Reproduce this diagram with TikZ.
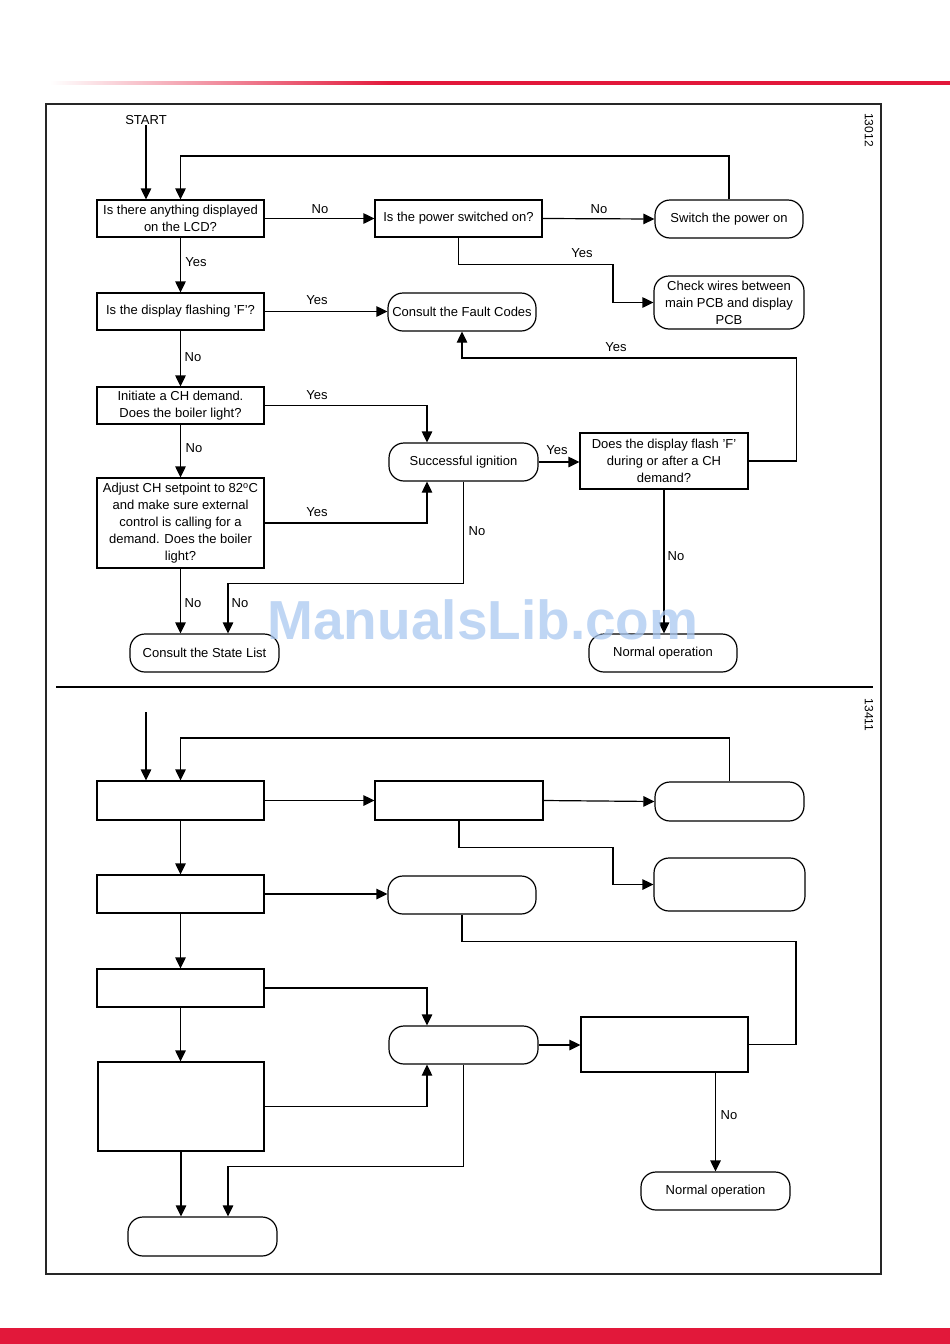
\documentclass[tikz,border=0pt]{standalone}
\usepackage{fontspec}
\setmainfont{Liberation Sans}
\usetikzlibrary{arrows.meta}
\definecolor{brandred}{RGB}{226,24,58}
\definecolor{wmblue}{RGB}{170,200,240}
\pgfdeclarehorizontalshading{redline}{100bp}{color(0bp)=(white); color(25bp)=(white); color(44bp)=(brandred); color(100bp)=(brandred)}
\begin{document}
\begin{tikzpicture}[x=1pt,y=-1pt,
  box/.style={draw, line width=1.2pt, inner sep=0pt, align=center, font=\fontsize{13}{17}\selectfont},
  term/.style={box, rounded corners=15pt},
  lbl/.style={font=\fontsize{13}{15}\selectfont, inner sep=0pt},
  arr/.style={-{Triangle[length=11pt,width=10.5pt]}, line width=1.2pt},
  con/.style={line width=1.2pt}
]
\useasboundingbox (0,0) rectangle (950,1344);
% page decoration
\shade[shading=redline] (50,81.8) rectangle (950,84.2);
\fill[brandred] (0,1328) rectangle (950,1344);
\draw[line width=1.1pt, black!85] (46,104) rectangle (881,1274);
\draw[line width=2pt] (56,687) -- (873,687);
\node[lbl, font=\fontsize{12}{14}\selectfont, rotate=-90] (id1) at (869,130) {13012};
\node[lbl, font=\fontsize{12}{14}\selectfont, rotate=-90] (id2) at (869,715) {13411};

% ===== upper chart =====
\node[lbl] (start) at (146,120) {START};
\node[box, minimum width=167pt, minimum height=37pt] (a) at (180.5,218.5) {Is there anything displayed\\on the LCD?};
\node[box, minimum width=167pt, minimum height=37pt] (b) at (458.5,218.5) {Is the power switched on?};
\node[term, minimum width=148pt, minimum height=38pt] (c) at (729,219) {Switch the power on};
\node[term, minimum width=150pt, minimum height=53pt] (d) at (729,302.5) {Check wires between\\main PCB and display\\PCB};
\node[box, minimum width=167pt, minimum height=37pt] (e) at (180.5,311.5) {Is the display flashing 'F'?};
\node[term, minimum width=148pt, minimum height=38pt] (f) at (462,312) {Consult the Fault Codes};
\node[box, minimum width=167pt, minimum height=37pt] (g) at (180.5,405.5) {Initiate a CH demand.\\Does the boiler light?};
\node[term, minimum width=149pt, minimum height=38pt] (h) at (463.5,462) {Successful ignition};
\node[box, minimum width=168pt, minimum height=56pt] (i) at (664,461) {Does the display flash 'F'\\during or after a CH\\demand?};
\node[box, minimum width=167pt, minimum height=90pt] (j) at (180.5,523) {Adjust CH setpoint to 82\textsuperscript{o}C\\and make sure external\\control is calling for a\\demand. Does the boiler\\light?};
\node[term, minimum width=149pt, minimum height=38pt] (k) at (204.5,653) {Consult the State List};
\node[term, minimum width=148pt, minimum height=38pt] (l) at (663,653) {Normal operation};

\draw[arr] (start.south) -- (start.south |- a.north);
\coordinate (loop1) at (0,156);
\draw[arr] (c.north) -- (c.north |- loop1) -| (a.north);
\draw[arr] (a.east) -- (b.west);
\draw[arr] (b.east) -- (c.west);
\draw[arr] (b.south) -- ++(0,27) -- ++(154.5,0) |- (d.west);
\draw[arr] (a.south) -- (e.north);
\draw[arr] (e.east) -- (e.east -| f.west);
\draw[arr] (e.south) -- (g.north);
\draw[arr] (g.east) -| ([xshift=-36.5pt]h.north);
\draw[arr] (g.south) -- (j.north);
\draw[arr] (j.east) -| ([xshift=-36.5pt]h.south);
\draw[arr] (h.east) -- (h.east -| i.west);
\draw[arr] (i.east) -- ++(48,0) -- ++(0,-103) -| (f.south);
\draw[arr] (i.south) -- (i.south |- l.north);
\draw[arr] (j.south) -- (j.south |- k.north);
\draw[arr] (h.south) -- ++(0,102) -| ([xshift=23.5pt]k.north);

\node[lbl] (n1) at (320,209) {No};
\node[lbl] (n2) at (599,209) {No};
\node[lbl] (y1) at (582,253) {Yes};
\node[lbl] (y2) at (196,262) {Yes};
\node[lbl] (y3) at (317,300) {Yes};
\node[lbl] (n3) at (193,357) {No};
\node[lbl] (y4) at (317,395) {Yes};
\node[lbl] (n4) at (194,448) {No};
\node[lbl] (y5) at (317,512) {Yes};
\node[lbl] (y6) at (557,450) {Yes};
\node[lbl] (y7) at (616,347) {Yes};
\node[lbl] (n5) at (676,556) {No};
\node[lbl] (n6) at (477,531) {No};
\node[lbl] (n7) at (193,603) {No};
\node[lbl] (n8) at (240,603) {No};

% ===== lower chart =====
\coordinate (s2) at (146,712);
\node[box, minimum width=167pt, minimum height=39pt] (a2) at (180.5,800.5) {};
\node[box, minimum width=168pt, minimum height=39pt] (b2) at (459,800.5) {};
\node[term, minimum width=149pt, minimum height=39pt] (c2) at (729.5,801.5) {};
\node[term, minimum width=151pt, minimum height=53pt] (d2) at (729.5,884.5) {};
\node[box, minimum width=167pt, minimum height=38pt] (e2) at (180.5,894) {};
\node[term, minimum width=148pt, minimum height=38pt] (f2) at (462,895) {};
\node[box, minimum width=167pt, minimum height=38pt] (g2) at (180.5,988) {};
\node[term, minimum width=149pt, minimum height=38pt] (h2) at (463.5,1045) {};
\node[box, minimum width=167pt, minimum height=55pt] (i2) at (664.5,1044.5) {};
\node[box, minimum width=166pt, minimum height=89pt] (j2) at (181,1106.5) {};
\node[term, minimum width=149pt, minimum height=39pt] (k2) at (202.5,1236.5) {};
\node[term, minimum width=149pt, minimum height=38pt] (l2) at (715.5,1191) {Normal operation};

\draw[arr] (s2) -- (s2 |- a2.north);
\coordinate (loop2) at (0,738);
\draw[arr] (c2.north) -- (c2.north |- loop2) -| (a2.north);
\draw[arr] (a2.east) -- (b2.west);
\draw[arr] (b2.east) -- (c2.west);
\draw[arr] (b2.south) -- ++(0,27) -- ++(154,0) |- (d2.west);
\draw[arr] (a2.south) -- (e2.north);
\draw[arr] (e2.east) -- (e2.east -| f2.west);
\draw[con] (f2.south) -- ++(0,27) -- ++(334,0) |- (i2.east);
\draw[arr] (e2.south) -- (g2.north);
\draw[arr] (g2.east) -| ([xshift=-36.5pt]h2.north);
\draw[arr] (g2.south) -- (g2.south |- j2.north);
\draw[arr] (j2.east) -| ([xshift=-36.5pt]h2.south);
\draw[arr] (h2.east) -- (h2.east -| i2.west);
\draw[arr] (l2.north |- i2.south) -- (l2.north);
\draw[arr] (j2.south) -- (j2.south |- k2.north);
\draw[arr] (h2.south) -- ++(0,102) -| ([xshift=25.5pt]k2.north);
\node[lbl] (n9) at (729,1115) {No};

% watermark
\node[font=\fontsize{55}{60}\selectfont\bfseries, text=wmblue, opacity=0.75, inner sep=0pt] (wm) at (483,620) {ManualsLib.com};
\end{tikzpicture}
\end{document}
